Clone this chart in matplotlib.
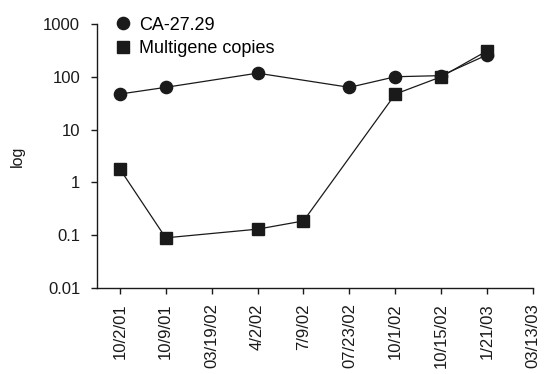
import numpy as np
import matplotlib
matplotlib.use("Agg")
import matplotlib.pyplot as plt
from matplotlib.lines import Line2D

plt.rcParams['font.family'] = ['Liberation Sans', 'DejaVu Sans']

dates = ['10/2/01', '10/9/01', '03/19/02', '4/2/02', '7/9/02',
         '07/23/02', '10/1/02', '10/15/02', '1/21/03', '03/13/03']
# nan = no measurement at that visit
ca2729 = [47, 63, np.nan, 117, np.nan, 63, 100, 105, 260, np.nan]
multigene = [1.8, 0.089, np.nan, 0.13, 0.186, np.nan, 47, 100, 310, np.nan]
yticks = [0.01, 0.1, 1, 10, 100, 1000]
ytick_labels = ['0.01', '0.1', '1', '10', '100', '1000']

col = '#1a1a1a'

fig = plt.figure(figsize=(5.44, 3.74), dpi=100)
ax = fig.add_axes([0.178, 0.23, 0.802, 0.706])

x = np.arange(len(dates))
ca = np.array(ca2729, dtype=float)
mg = np.array(multigene, dtype=float)
ok_ca = ~np.isnan(ca)
ok_mg = ~np.isnan(mg)

ax.plot(x[ok_mg], mg[ok_mg], color=col, lw=0.9, marker='s', ms=8,
        mfc=col, mec=col, zorder=3)
ax.plot(x[ok_ca], ca[ok_ca], color=col, lw=0.9, marker='o', ms=8.8,
        mfc=col, mec=col, zorder=4)

ax.set_yscale('log')
ax.set_ylim(0.01, 1000)
ax.set_xlim(-0.5, 9)
ax.set_yticks(yticks)
ax.set_yticklabels(ytick_labels)
ax.yaxis.set_minor_locator(matplotlib.ticker.NullLocator())
ax.set_xticks(x)
ax.set_xticklabels(dates, rotation=90)

for s in ['top', 'right']:
    ax.spines[s].set_visible(False)
for s in ['left', 'bottom']:
    ax.spines[s].set_linewidth(1.0)
    ax.spines[s].set_color(col)
ax.tick_params(axis='both', direction='out', length=4, width=1.0,
               labelsize=12, colors=col, labelcolor=col)
ax.tick_params(axis='y', pad=8)
ax.tick_params(axis='x', pad=7)

ax.set_ylabel('log', fontsize=11.5, color=col, labelpad=13)

handles = [Line2D([], [], ls='none', marker='o', ms=8.8, color=col),
           Line2D([], [], ls='none', marker='s', ms=8, color=col)]
ax.legend(handles, ['CA-27.29', 'Multigene copies'], frameon=False,
          loc='upper left', bbox_to_anchor=(0.015, 1.075), fontsize=13,
          handlelength=0.8, handletextpad=0.5, labelspacing=0.35,
          borderaxespad=0.3)

fig.savefig('out.png', dpi=100)
